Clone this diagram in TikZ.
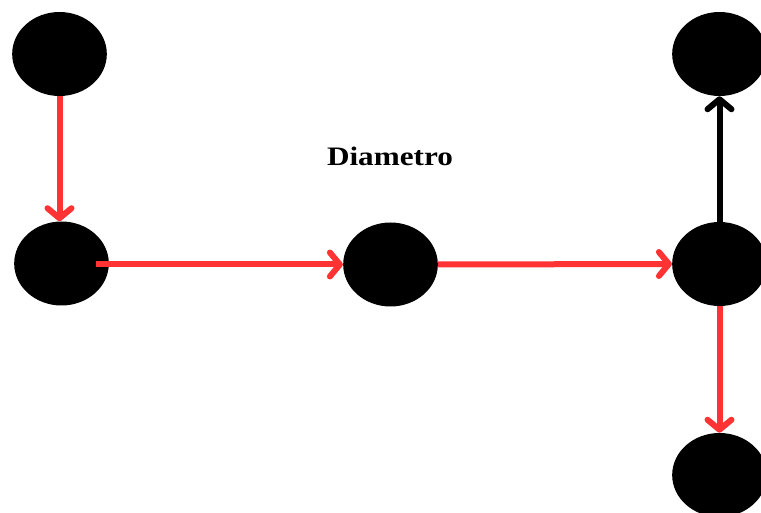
\documentclass[tikz,border=0pt]{standalone}
\usepackage{fontspec}
\setmainfont{Liberation Serif}
\usepackage{xcolor}
\usetikzlibrary{arrows.meta}
\usetikzlibrary{shapes.geometric, calc}
\definecolor{myred}{RGB}{255, 51, 51}

\begin{document}
\begin{tikzpicture}[x=0.75pt, y=-0.75pt,
  dot/.style={ellipse, fill=black, minimum width=71pt, minimum height=63pt, inner sep=0pt},
  link/.style={line width=4.5pt, -{Straight Barb[length=7.5pt, width=18pt, round]}}]
\useasboundingbox (0,0) rectangle (761,513);

\node[dot] (tl) at (59.5,54) {};
\node[dot] (ml) at (61.5,263.5) {};
\node[dot] (mid) at (390.5,264.5) {};
\node[dot] (rm) at (719.5,264) {};
\node[dot] (tr) at (719.5,54) {};
\node[dot] (br) at (719.5,475) {};
\coordinate (mlout) at ($(ml)+(34,1)$);

\node[font=\bfseries\fontsize{20}{20}\selectfont, xscale=1.17] (dia) at (390,156) {Diametro};

\draw[link, color=myred] (tl.south) -- (tl.south |- ml.north);
\draw[link, color=myred] (mlout) -- (mid.west);
\draw[link, color=myred] (mid.east) -- (rm.west);
\draw[link, color=black] (rm.north) -- (tr.south);
\draw[link, color=myred] (rm.south) -- (br.north);
\end{tikzpicture}
\end{document}
